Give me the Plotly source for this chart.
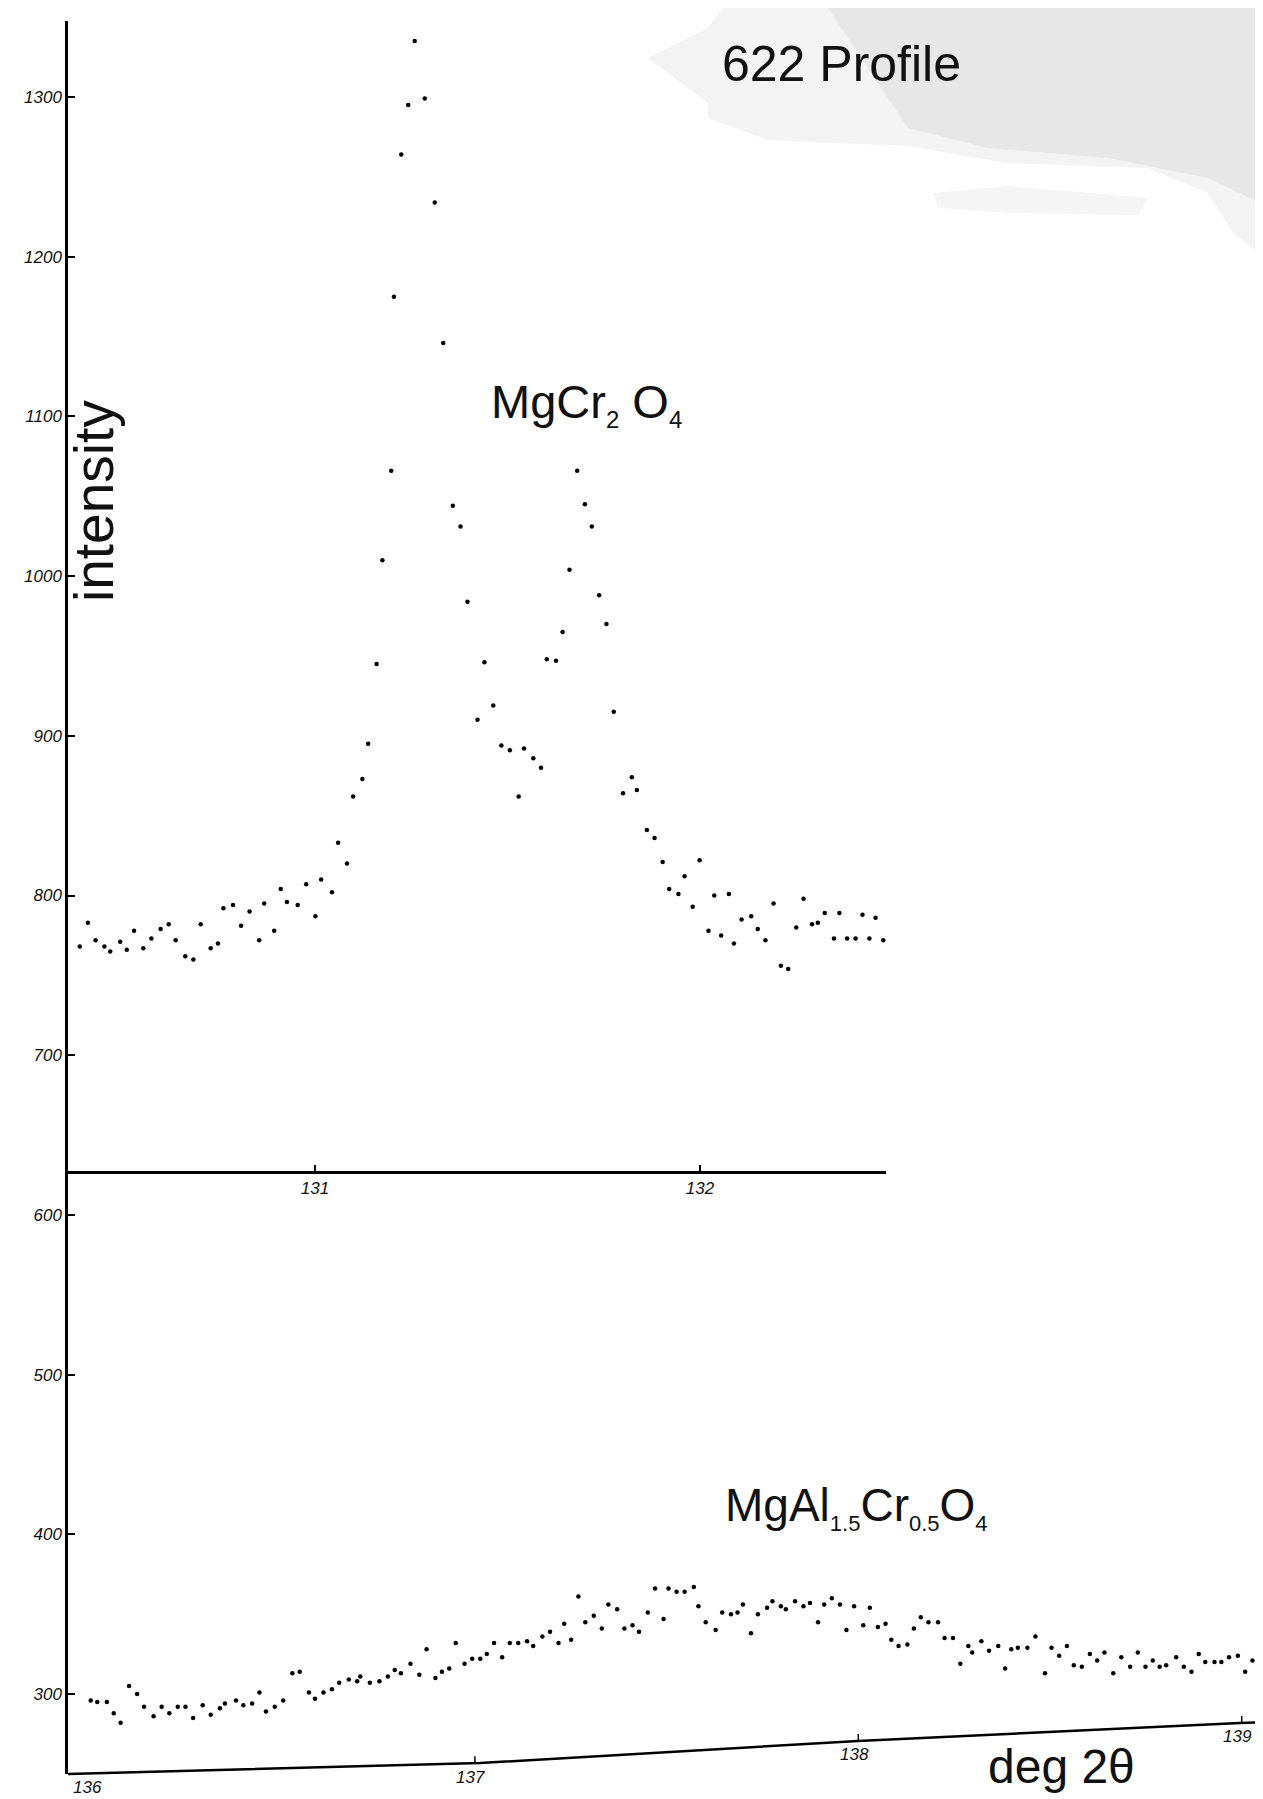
import plotly.graph_objects as go

# ---- data ----
# MgCr2O4 (622 profile, upper scan): deg 2theta, intensity
mgcr_x = [130.389,130.410,130.430,130.453,130.468,130.494,130.511,130.530,130.554,130.575,
          130.599,130.620,130.638,130.663,130.684,130.703,130.729,130.748,130.762,130.787,
          130.808,130.830,130.855,130.868,130.894,130.911,130.927,130.955,130.977,131.001,
          131.016,131.044,131.060,131.083,131.099,131.123,131.138,131.160,131.175,131.198,
          131.205,131.224,131.242,131.259,131.285,131.311,131.333,131.358,131.378,131.396,
          131.422,131.440,131.463,131.484,131.506,131.529,131.543,131.567,131.587,131.602,
          131.626,131.643,131.661,131.681,131.701,131.719,131.738,131.757,131.776,131.800,
          131.823,131.836,131.862,131.882,131.903,131.920,131.944,131.960,131.981,131.999,
          132.022,132.037,132.055,132.075,132.088,132.108,132.133,132.150,132.170,132.191,
          132.210,132.229,132.250,132.269,132.291,132.306,132.324,132.348,132.362,132.382,
          132.404,132.422,132.440,132.456,132.476]
mgcr_y = [768,783,772,768,765,771,766,778,767,773,
          779,782,772,762,760,782,767,770,792,794,
          781,790,772,795,778,804,796,794,807,787,
          810,802,833,820,862,873,895,945,1010,1066,
          1175,1264,1295,1335,1299,1234,1146,1044,1031,984,
          910,946,919,894,891,862,892,886,880,948,
          947,965,1004,1066,1045,1031,988,970,915,864,
          874,866,841,836,821,804,801,812,793,822,
          778,800,775,801,770,785,787,779,772,795,
          756,754,780,798,782,783,789,773,789,773,
          773,788,773,786,772]

# MgAl1.5Cr0.5O4 (lower scan)
mgal_x = [135.998,136.015,136.040,136.058,136.076,136.098,136.119,136.137,136.162,136.183,
          136.203,136.225,136.245,136.265,136.290,136.311,136.335,136.348,136.377,136.396,
          136.419,136.438,136.455,136.478,136.500,136.524,136.543,136.567,136.583,136.605,
          136.627,136.646,136.671,136.693,136.701,136.726,136.751,136.773,136.791,136.807,
          136.832,136.855,136.874,136.897,136.914,136.933,136.950,136.973,136.993,137.014,
          137.031,137.050,137.071,137.091,137.113,137.136,137.152,137.176,137.196,137.218,
          137.233,137.251,137.270,137.288,137.310,137.331,137.348,137.371,137.390,137.411,
          137.428,137.451,137.470,137.492,137.505,137.526,137.547,137.571,137.583,137.602,
          137.628,137.645,137.668,137.685,137.699,137.720,137.738,137.762,137.776,137.798,
          137.811,137.835,137.857,137.874,137.895,137.911,137.931,137.952,137.969,137.989,
          138.013,138.030,138.051,138.071,138.086,138.105,138.128,138.145,138.163,138.183,
          138.208,138.225,138.247,138.266,138.287,138.297,138.321,138.341,138.365,138.383,
          138.399,138.416,138.441,138.462,138.487,138.504,138.524,138.544,138.562,138.583,
          138.604,138.623,138.642,138.665,138.686,138.709,138.729,138.749,138.768,138.786,
          138.803,138.829,138.849,138.869,138.888,138.905,138.929,138.947,138.967,138.990,
          139.009,139.028,139.049,139.071]
mgal_y = [296,295,295,288,282,305,300,292,286,292,
          288,292,292,285,293,287,291,294,296,293,
          294,301,289,292,296,313,314,301,297,301,
          303,307,309,308,311,307,308,311,315,313,
          319,312,328,310,314,316,332,319,322,322,
          325,332,323,332,332,333,330,336,339,332,
          344,334,361,345,349,341,356,353,341,343,
          339,351,366,347,366,364,364,367,355,345,
          340,351,350,351,356,338,350,354,358,355,
          353,358,355,357,345,356,360,356,340,355,
          343,354,342,344,334,330,331,341,348,345,
          345,335,335,319,330,326,333,327,330,316,
          328,329,329,336,313,329,324,330,318,317,
          325,321,326,313,323,317,326,317,321,317,
          318,323,317,314,325,320,320,320,323,324,
          314,321,323,318]

y_ticks = [300, 400, 500, 600, 700, 800, 900, 1000, 1100, 1200, 1300]
top_x_ticks = [131, 132]
bottom_x_ticks = [136, 137, 138, 139]
top_axis_level = 627          # intensity at which the MgCr2O4 2θ axis is drawn

# ---- layout geometry (pixels of the 1263x1799 page) ----
W, H = 1263, 1799
ML, MR, MT, MB = 60, 0, 13, 33
PW, PH = W - ML - MR, H - MT - MB
Y_RANGE = [249.9, 1347.6]
X_RANGE = [135.9387, 139.0764]
X2_RANGE = [130.3584, 132.4831]
X2_RIGHT_PIX = 878


def px(xpix):
    return (xpix - ML) / PW


def py(ypix):
    return (MT + PH - ypix) / PH


# hand-drawn (slightly tilted) lower 2θ axis line, pixel polyline
AXIS_PTS = [(60, 1766), (472, 1755), (850, 1733), (1040, 1724), (1232, 1715), (1263, 1714)]


def axis_y_at(xpix):
    for (x0, y0), (x1, y1) in zip(AXIS_PTS[:-1], AXIS_PTS[1:]):
        if x0 <= xpix <= x1:
            return y0 + (y1 - y0) * (xpix - x0) / (x1 - x0)
    return AXIS_PTS[-1][1]


def xpix_of(v):
    return ML + (v - X_RANGE[0]) / (X_RANGE[1] - X_RANGE[0]) * PW


tick_font = dict(family="Liberation Sans, DejaVu Sans, sans-serif", size=17,
                 color="#111", style="italic")
label_font = "Liberation Sans, Arial, DejaVu Sans, sans-serif"

fig = go.Figure()
fig.add_trace(go.Scatter(x=mgcr_x, y=mgcr_y, mode="markers", xaxis="x2", yaxis="y",
                         marker=dict(size=4.5, color="black"), showlegend=False,
                         cliponaxis=False, name="MgCr2O4"))
fig.add_trace(go.Scatter(x=mgal_x, y=mgal_y, mode="markers", xaxis="x", yaxis="y",
                         marker=dict(size=4.5, color="black"), showlegend=False,
                         cliponaxis=False, name="MgAl1.5Cr0.5O4"))

axis_common = dict(showgrid=False, zeroline=False, showline=True, linecolor="black",
                   linewidth=2.5, ticks="inside", tickcolor="black", tickwidth=1.5,
                   tickfont=tick_font)

top_pos = (top_axis_level - Y_RANGE[0]) / (Y_RANGE[1] - Y_RANGE[0])

fig.update_layout(
    width=W, height=H, autosize=False,
    margin=dict(l=ML, r=MR, t=MT, b=MB, pad=0),
    paper_bgcolor="white", plot_bgcolor="rgba(0,0,0,0)",
    xaxis=dict(domain=[0, 1], range=X_RANGE, showgrid=False, zeroline=False,
               showline=False, ticks="", showticklabels=False, anchor="y"),
    xaxis2=dict(domain=[0, (X2_RIGHT_PIX - ML) / PW], range=X2_RANGE,
                tickvals=top_x_ticks, ticklen=6, anchor="free", position=top_pos,
                **axis_common),
    yaxis=dict(domain=[0, 1], range=Y_RANGE, tickvals=y_ticks, ticklen=7,
               anchor="x", **axis_common),
)

# lower 2θ axis: tilted line, ticks and labels following it
axis_path = "M " + " L ".join(f"{px(a):.5f},{py(b):.5f}" for a, b in AXIS_PTS)
fig.add_shape(type="path", path=axis_path, xref="paper", yref="paper",
              line=dict(color="black", width=2.5))
for v in bottom_x_ticks:
    ay = axis_y_at(xpix_of(v))
    if v != bottom_x_ticks[0]:
        fig.add_shape(type="line", xref="x", yref="paper", x0=v, x1=v,
                      y0=py(ay), y1=py(ay - 7), line=dict(color="black", width=1.5))
    fig.add_annotation(text=str(v), x=v, xref="x", y=py(ay + 14), yref="paper",
                       xshift=-4, xanchor="center", yanchor="middle", showarrow=False,
                       font=tick_font)

# faint grey smudge of the scan behind the title
smudges = [
    ([(640, 50), (700, 20), (715, 0), (1263, 0), (1263, 255), (1225, 225), (1200, 185),
      (1140, 160), (1000, 155), (900, 138), (760, 132), (700, 110), (700, 95), (660, 65)],
     "rgba(90,90,90,0.07)"),
    ([(820, 0), (1263, 0), (1263, 200), (1200, 170), (1100, 150), (980, 140), (900, 120),
      (860, 60)], "rgba(90,90,90,0.07)"),
    ([(925, 185), (1000, 178), (1140, 190), (1130, 207), (1000, 205), (930, 200)],
     "rgba(90,90,90,0.06)"),
]
for pts, col in smudges:
    path = "M " + " L ".join(f"{px(a):.4f},{py(b):.4f}" for a, b in pts) + " Z"
    fig.add_shape(type="path", path=path, xref="paper", yref="paper",
                  fillcolor=col, line=dict(width=0), layer="below")


def small(t, s):
    return f"<sub><span style='font-size:{s}px'>{t}</span></sub>"


ann = [
    dict(text="622 Profile", x=px(712), y=py(56), size=50),
    dict(text="MgCr" + small("2", 24) + " O" + small("4", 24), x=px(481), y=py(396), size=47),
    dict(text="MgAl" + small("1.5", 22) + "Cr" + small("0.5", 22) + "O" + small("4", 22),
         x=px(715), y=py(1499), size=46),
    dict(text="deg 2θ", x=px(978), y=py(1758), size=48),
]
for a in ann:
    fig.add_annotation(text=a["text"], x=a["x"], y=a["y"], xref="paper", yref="paper",
                       xanchor="left", yanchor="middle", showarrow=False,
                       font=dict(family=label_font, size=a["size"], color="#111"))

fig.add_annotation(text="intensity", x=px(86), y=py(493), xref="paper", yref="paper",
                   xanchor="center", yanchor="middle", textangle=-90, showarrow=False,
                   font=dict(family=label_font, size=55, color="#111"))

fig.write_html("out.html")
